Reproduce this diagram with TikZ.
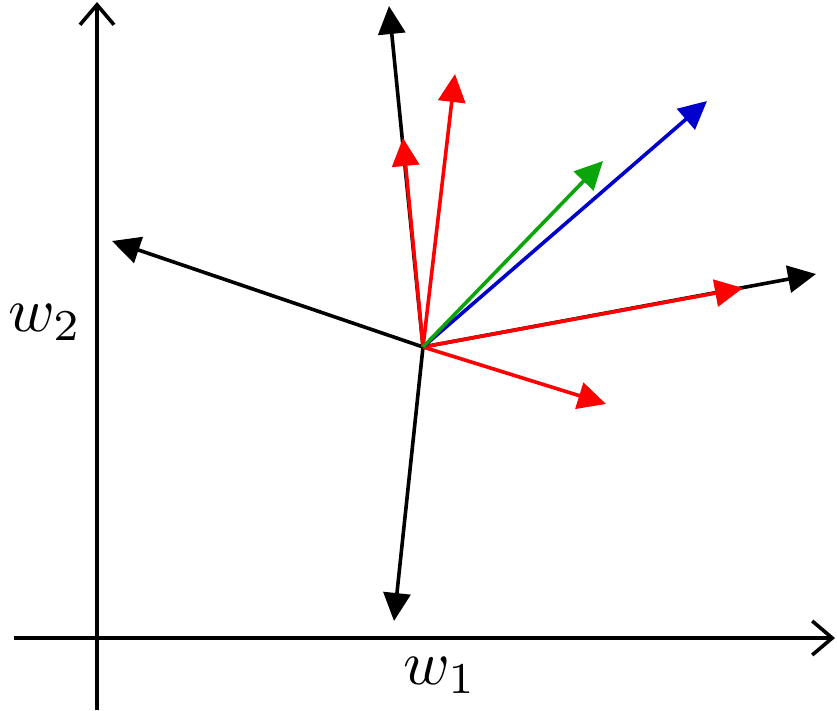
\documentclass[tikz,border=0pt]{standalone}
\usetikzlibrary{arrows.meta}
\definecolor{vgreen}{RGB}{10,165,10}
\definecolor{vblue}{RGB}{0,0,205}
\begin{document}
\begin{tikzpicture}[x=1pt,y=-1pt,
  axis/.style={line width=3.6pt,-{Straight Barb[length=20pt,width=34pt,line width=3.6pt]}},
  vec/.style={line width=3.6pt,-{Triangle[length=28pt,width=27pt]}},
  lbl/.style={inner sep=0pt,anchor=base west,scale=6.3}]
\useasboundingbox (0,0) rectangle (837,711);
% axes
\coordinate (xs) at (14,638);
\coordinate (xe) at (835,638);
\coordinate (ys) at (97,710);
\coordinate (ye) at (97,2);
\draw[axis] (xs) -- (xe);
\draw[axis] (ys) -- (ye);
\node[lbl] (w2) at (7,331) {$w_2$};
\node[lbl] (w1) at (402,684) {$w_1$};
% centre and tips
\coordinate (c) at (423,347);
\coordinate (kt) at (389,6);
\coordinate (kl) at (112,241);
\coordinate (kr) at (816,274);
\coordinate (kb) at (394,621);
\coordinate (r1) at (403,138);
\coordinate (r2) at (455,74);
\coordinate (r3) at (743,288);
\coordinate (r4) at (606,404);
\coordinate (g) at (603,161);
\coordinate (b) at (707,101);
\draw[vec,black] (c) -- (kt);
\draw[vec,black] (c) -- (kl);
\draw[vec,black] (c) -- (kr);
\draw[vec,black] (c) -- (kb);
\draw[vec,red] (c) -- (r1);
\draw[vec,red] (c) -- (r2);
\draw[vec,red] (c) -- (r3);
\draw[vec,red] (c) -- (r4);
\draw[vec,vblue] (c) -- (b);
\draw[vec,vgreen] (c) -- (g);
\end{tikzpicture}
\end{document}
